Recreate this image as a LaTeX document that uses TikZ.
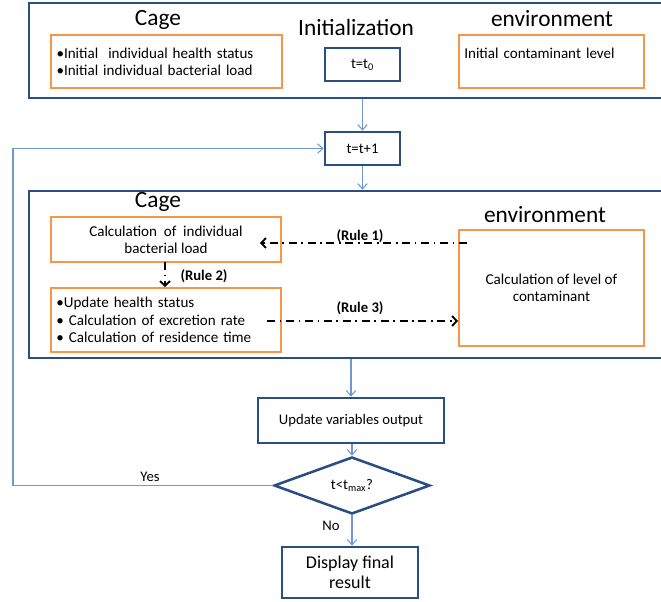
\documentclass[tikz,border=0pt]{standalone}
\usepackage{fontspec}
\setmainfont{Carlito}
\usetikzlibrary{arrows.meta,fit,shapes.geometric}
\definecolor{frameblue}{HTML}{2A4E82}
\definecolor{taskorange}{HTML}{F79646}
\definecolor{linkblue}{HTML}{6E98CF}
\tikzset{framebox/.style={draw=frameblue,line width=1.9pt,inner sep=0pt},
  stepbox/.style={draw=frameblue,line width=1.9pt,align=center,font=\fontsize{11}{13}\selectfont},
  taskbox/.style={draw=taskorange,line width=1.5pt,inner xsep=4pt,font=\fontsize{11.3}{13}\selectfont},
  titletext/.style={font=\fontsize{17.5}{20}\selectfont},
  link/.style={draw=linkblue,line width=0.8pt,-{Straight Barb[length=4pt,width=7pt]}},
  rulelink/.style={line width=1.4pt,dash pattern=on 6pt off 3.5pt on 1.2pt off 3.5pt,
    -{Straight Barb[length=3.5pt,width=7.5pt,line width=1.4pt]}},
  rulelabel/.style={font=\bfseries\fontsize{11}{13}\selectfont}}

\begin{document}
\begin{tikzpicture}[x=0.75pt,y=-0.75pt]
  \useasboundingbox (0,0) rectangle (661,602);

  % initialization
  \node [framebox,fit={(29,3) (670,98)}] (init) {};
  \node [titletext] (cagetop) at (158,20) {Cage};
  \node [titletext] (inittitle) at (356,27) {Initialization};
  \node [titletext] (envtop) at (552,19) {environment};
  \node [taskbox,text width=165pt,align=left,minimum height=39.75pt] (cageinit) at (166.5,61.5)
    {•Initial\ \ individual health status\\•Initial individual bacterial load};
  \node [stepbox,minimum width=56.25pt,minimum height=24.75pt] (tzero) at (362.5,64.5) {t=t\textsubscript{0}};
  \node [taskbox,text width=130.75pt,align=left,minimum height=39.75pt] (envinit) at (551.5,61.5)
    {Initial contaminant level\\\mbox{}};

  \node [stepbox,minimum width=56.25pt,minimum height=24.75pt] (tstep) at (362.5,148.5) {t=t+1};
  \draw [link] (init.south -| tstep) -- (tstep);

  % update step
  \node [framebox,fit={(29,191) (670,358)}] (update) {};
  \draw [link] (tstep.south) -- (tstep.south |- update.north);
  \node [titletext] (cagemid) at (158,202) {Cage};
  \node [titletext] (envmid) at (545,215) {environment};
  \node [taskbox,minimum width=172.5pt,minimum height=33.75pt,align=center] (load) at (166,239.5)
    {Calculation\ \ of\ \ individual\\bacterial load};
  \node [taskbox,text width=164.5pt,align=left,minimum height=48pt] (health) at (166,320)
    {•Update health status\\• Calculation of excretion rate\\• Calculation of residence time};
  \node [taskbox,minimum width=138.75pt,minimum height=87pt,align=center] (level) at (551.5,288)
    {Calculation of level of\\contaminant};

  \coordinate (ruleonestart) at (467,243);
  \coordinate (ruleoneend) at (260,243);
  \coordinate (ruletwostart) at (165,262);
  \coordinate (rulethreestart) at (267,321);
  \draw [rulelink] (ruleonestart) -- (ruleoneend);
  \draw [rulelink] (ruletwostart) -- (ruletwostart |- health.north);
  \draw [rulelink] (rulethreestart) -- (rulethreestart -| level.west);
  \node [rulelabel] (ruleone) at (360,236) {(Rule 1)};
  \node [rulelabel] (ruletwo) at (204,276) {(Rule 2)};
  \node [rulelabel] (rulethree) at (360,308) {(Rule 3)};

  % output and test
  \node [stepbox,minimum width=139.5pt,minimum height=33.75pt] (output) at (351,420.5) {Update variables output};
  \draw [link] (update.south -| output) -- (output);
  \node [draw=frameblue,line width=1.9pt,diamond,inner sep=0pt,minimum width=117pt,minimum height=42.75pt,
    font=\fontsize{11}{13}\selectfont] (check) at (352,485.5) {t<t\textsubscript{max}?};
  \draw [link] (output.south -| check) -- (check.north);
  \node [stepbox,minimum width=102pt,minimum height=38.25pt,font=\fontsize{13.5}{15}\selectfont] (result) at (350,572.5)
    {Display final\\result};
  \draw [link] (check.south) -- (check.south |- result.north);
  \node [font=\fontsize{11}{13}\selectfont] (nolabel) at (331,526) {No};
  \node [font=\fontsize{11}{13}\selectfont] (yeslabel) at (150,477) {Yes};

  \coordinate (loopcorner) at (13,0);
  \draw [link] (check.west) -| (loopcorner |- tstep) -- (tstep.west);
\end{tikzpicture}
\end{document}
